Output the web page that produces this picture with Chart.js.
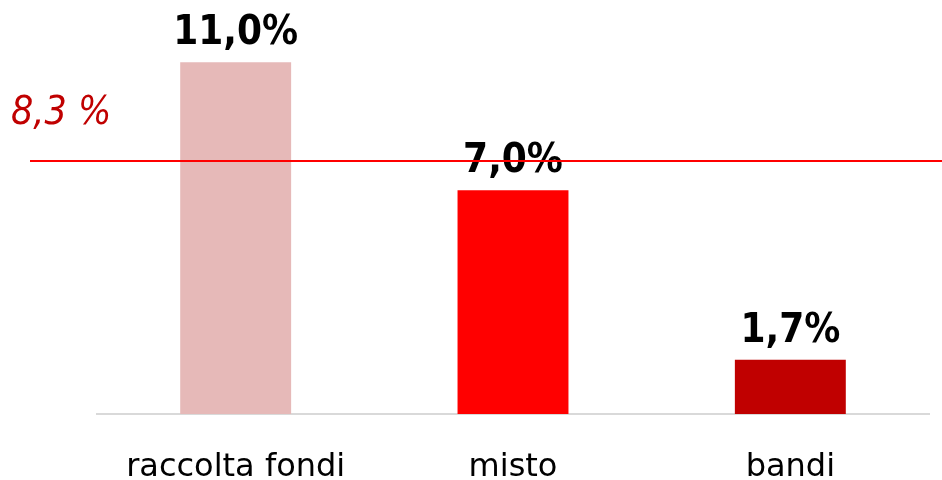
<!DOCTYPE html>
<html>
<head>
<meta charset="utf-8">
<script src="https://cdn.jsdelivr.net/npm/chart.js@4"></script>
<style>
  body { margin: 0; background: #fff; }
  #wrap { width: 942px; height: 480px; }
</style>
</head>
<body>
<div id="wrap"><canvas id="chart" width="942" height="480"></canvas></div>
<script>
// data
const categories = ['raccolta fondi', 'misto', 'bandi'];
const values = [11.0, 7.0, 1.7];
const avgText = '8,3 %';
const avgLevel = 7.9; // where the reference line sits on the value scale

const barColors = ['#E6B9B8', '#FF0000', '#C00000'];

function fmt(v) {
  return v.toFixed(1).replace('.', ',') + '%';
}

// value labels above bars, then the red reference line on top
const overlay = {
  id: 'overlay',
  afterDatasetsDraw(chart) {
    const ctx = chart.ctx;
    const meta = chart.getDatasetMeta(0);
    ctx.save();
    ctx.fillStyle = '#000';
    ctx.font = 'bold 40px "DejaVu Sans Condensed", "DejaVu Sans"';
    ctx.textAlign = 'center';
    ctx.textBaseline = 'alphabetic';
    meta.data.forEach((bar, i) => {
      ctx.fillText(fmt(values[i]), bar.x, bar.y - 18);
    });

    const y = Math.round(chart.scales.y.getPixelForValue(avgLevel));
    ctx.strokeStyle = '#FF0000';
    ctx.lineWidth = 2;
    ctx.beginPath();
    ctx.moveTo(30, y);
    ctx.lineTo(chart.width, y);
    ctx.stroke();

    ctx.fillStyle = '#C00000';
    ctx.font = 'italic 39px "DejaVu Sans Condensed", "DejaVu Sans"';
    ctx.textAlign = 'left';
    ctx.fillText(avgText, 11, y - 37);
    ctx.restore();
  }
};

new Chart(document.getElementById('chart'), {
  type: 'bar',
  data: {
    labels: categories,
    datasets: [{
      data: values,
      backgroundColor: barColors,
      barPercentage: 0.4,
      categoryPercentage: 1.0
    }]
  },
  options: {
    responsive: false,
    animation: false,
    layout: { padding: { left: 97, right: 13, top: 0, bottom: 0 } },
    plugins: { legend: { display: false }, tooltip: { enabled: false } },
    scales: {
      x: {
        grid: { display: false },
        border: { color: '#D9D9D9', width: 2 },
        ticks: {
          color: '#000',
          padding: 26,
          font: { family: '"DejaVu Sans"', size: 32 }
        },
        afterFit(scale) { scale.height = 66; }
      },
      y: {
        display: false,
        min: 0,
        max: 12.95
      }
    }
  },
  plugins: [overlay]
});
</script>
</body>
</html>
